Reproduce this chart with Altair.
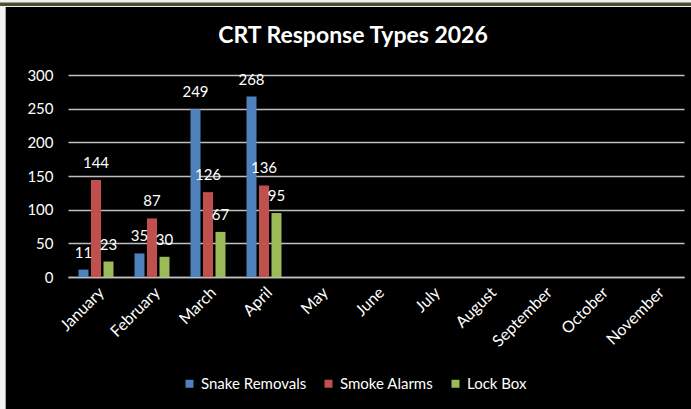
import altair as alt
import pandas as pd

# Monthly CRT response counts by type
months = ["January", "February", "March", "April", "May", "June",
          "July", "August", "September", "October", "November"]
series = ["Snake Removals", "Smoke Alarms", "Lock Box"]
reported_months = ["January", "February", "March", "April"]
snake_removals = [11, 35, 249, 268]
smoke_alarms = [144, 87, 126, 136]
lock_box = [23, 30, 67, 95]
colors = ["#4f81bd", "#c0504d", "#9bbb59"]
y_ticks = [0, 50, 100, 150, 200, 250, 300]

rows = []
for name, vals in zip(series, [snake_removals, smoke_alarms, lock_box]):
    for m, v in zip(reported_months, vals):
        rows.append({"month": m, "type": name, "count": v})
df = pd.DataFrame(rows)

FONT = "Lato, Open Sans, sans-serif"

x_enc = alt.X("month:N", sort=months,
              scale=alt.Scale(domain=months, paddingInner=0.375, paddingOuter=0.1875),
              axis=alt.Axis(title=None, labelAngle=-45, labelFontSize=16,
                            labelColor="white", labelFont=FONT, labelPadding=7,
                            ticks=False, domainColor="#bfbfbf", domainWidth=1.5))
xo_enc = alt.XOffset("type:N", sort=series,
                     scale=alt.Scale(domain=series, paddingInner=0.2, paddingOuter=0))
y_enc = alt.Y("count:Q",
              scale=alt.Scale(domain=[0, 300], nice=False),
              axis=alt.Axis(title=None, values=y_ticks, labelFontSize=15,
                            labelColor="white", labelFont=FONT, labelPadding=15,
                            labelOverlap=False, ticks=False, domain=False,
                            gridColor="#bfbfbf", gridWidth=1.5))

bars = alt.Chart(df).mark_bar().encode(
    x=x_enc,
    xOffset=xo_enc,
    y=y_enc,
    color=alt.Color("type:N", sort=series,
                    scale=alt.Scale(domain=series, range=colors),
                    legend=alt.Legend(title=None, orient="none", direction="horizontal",
                                      legendX=114, legendY=301,
                                      symbolType="square", symbolSize=64,
                                      symbolStrokeWidth=0,
                                      labelFontSize=15, labelColor="white",
                                      labelFont=FONT, columnPadding=14)),
)

labels = alt.Chart(df).mark_text(dy=-17, baseline="middle", fontSize=15,
                                 color="white", font=FONT).encode(
    x=x_enc,
    xOffset=xo_enc,
    y=y_enc,
    text="count:Q",
)

# Frame strips along the top and left edges
frame = pd.DataFrame({"k": [0]})
top_white = alt.Chart(frame).mark_rect(color="#f2f2f2").encode(
    x=alt.value(-68), x2=alt.value(623), y=alt.value(-75), y2=alt.value(-68))
top_olive = alt.Chart(frame).mark_rect(color="#4b4f2c").encode(
    x=alt.value(-68), x2=alt.value(623), y=alt.value(-72.5), y2=alt.value(-69))
left_white = alt.Chart(frame).mark_rect(color="#f2f2f2").encode(
    x=alt.value(-68), x2=alt.value(-62), y=alt.value(-69), y2=alt.value(334))
left_gray = alt.Chart(frame).mark_rect(color="#a6a6a6").encode(
    x=alt.value(-63), x2=alt.value(-62), y=alt.value(-68), y2=alt.value(334))

chart = alt.layer(bars, labels, top_white, top_olive, left_white, left_gray).properties(
    width=616,
    height=202,
    autosize=alt.AutoSizeParams(type="none"),
    padding={"left": 68, "top": 75, "right": 7, "bottom": 132},
    background="black",
    title=alt.TitleParams("CRT Response Types 2026", fontSize=23, fontWeight="bold",
                          color="white", font=FONT, anchor="middle", dx=-23,
                          offset=-48),
).configure_view(stroke=None)

chart.save("out.html", embed_options={"renderer": "svg", "actions": False})
